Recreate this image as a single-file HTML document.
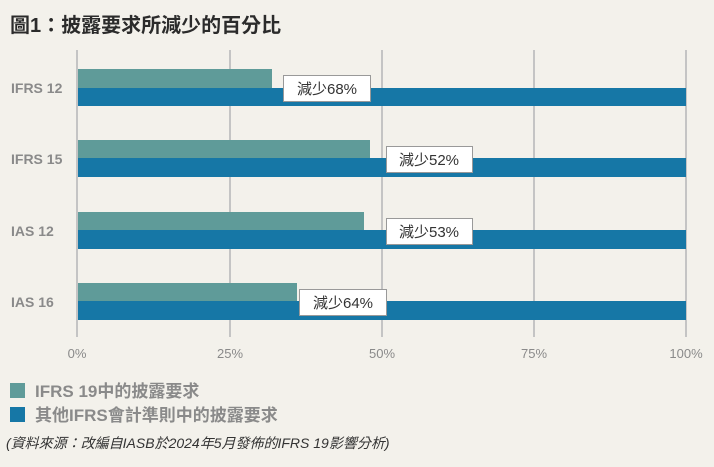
<!DOCTYPE html>
<html><head><meta charset="utf-8"><style>
body{margin:0;width:714px;height:467px;background:#f3f1eb;overflow:hidden;font-family:"Liberation Sans","Noto Sans CJK TC",sans-serif;}
svg{position:absolute;left:0;top:0}
</style></head><body>
<svg width="714" height="467" xmlns="http://www.w3.org/2000/svg" font-family="Liberation Sans, Noto Sans CJK TC, sans-serif">
<text x="10" y="32" font-size="20" font-weight="bold" fill="#2b2b2b">圖1：披露要求所減少的百分比</text>
<g stroke="#c4c4c4" stroke-width="2">
<line x1="77" y1="50" x2="77" y2="337"/><line x1="230" y1="50" x2="230" y2="337"/>
<line x1="382" y1="50" x2="382" y2="337"/><line x1="534" y1="50" x2="534" y2="337"/>
<line x1="686" y1="50" x2="686" y2="337"/></g>
<g fill="#5f9b99">
<rect x="78" y="69" width="194" height="19"/><rect x="78" y="140" width="292" height="18"/>
<rect x="78" y="212" width="286" height="18"/><rect x="78" y="283" width="219" height="18"/></g>
<g fill="#1677a6">
<rect x="78" y="88" width="608" height="18"/><rect x="78" y="158" width="608" height="19"/>
<rect x="78" y="230" width="608" height="19"/><rect x="78" y="301" width="608" height="19"/></g>
<g fill="#fff" stroke="#999" stroke-width="1">
<rect x="283.5" y="75.5" width="87" height="26"/><rect x="386.5" y="146.5" width="86" height="26"/>
<rect x="386.5" y="218.5" width="86" height="26"/><rect x="299.5" y="289.5" width="87" height="26"/></g>
<g font-size="15" fill="#333" text-anchor="middle">
<text x="327" y="94">減少68%</text><text x="429" y="165">減少52%</text>
<text x="429" y="237">減少53%</text><text x="343" y="308">減少64%</text></g>
<g font-size="14" fill="#8a8a8a" font-weight="bold">
<text x="11" y="93">IFRS 12</text><text x="11" y="164">IFRS 15</text>
<text x="11" y="236">IAS 12</text><text x="11" y="307">IAS 16</text></g>
<g font-size="13" fill="#8a8a8a" text-anchor="middle">
<text x="77" y="358">0%</text><text x="230" y="358">25%</text><text x="382" y="358">50%</text>
<text x="534" y="358">75%</text><text x="686" y="358">100%</text></g>
<rect x="10" y="383" width="15" height="15" fill="#5f9b99"/>
<rect x="10" y="407" width="15" height="15" fill="#1677a6"/>
<g font-size="17" fill="#8a8a8a" font-weight="bold">
<text x="35" y="397">IFRS 19中的披露要求</text>
<text x="35" y="421">其他IFRS會計準則中的披露要求</text></g>
<text x="6" y="448" font-size="14" font-style="italic" fill="#333">(資料來源：改編自IASB於2024年5月發佈的IFRS 19影響分析)</text>
</svg>
</body></html>
